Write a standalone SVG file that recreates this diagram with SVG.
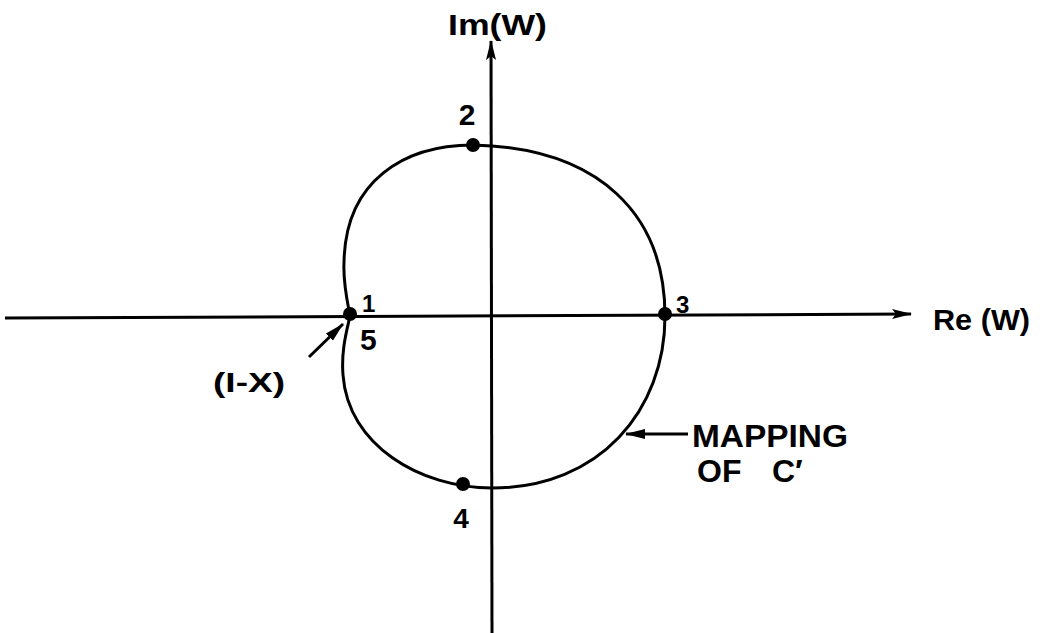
<svg xmlns="http://www.w3.org/2000/svg" width="1040" height="633" viewBox="0 0 1040 633">
<style>
.ax{stroke:#000;stroke-width:3;fill:none}
.cv{stroke:#000;stroke-width:3;fill:none}
.dot{fill:#000}
.lb{font-family:"Liberation Sans",Arial,sans-serif;font-weight:bold;fill:#000}
</style>
<defs>
<marker id="ah" viewBox="0 0 20 12" refX="19" refY="6" markerWidth="20" markerHeight="12" markerUnits="userSpaceOnUse" orient="auto">
<path d="M0,1 L20,6 L0,11 L4,6 Z" fill="#000"/>
</marker>
<marker id="ah2" viewBox="0 0 20 12" refX="19" refY="6" markerWidth="20" markerHeight="12" markerUnits="userSpaceOnUse" orient="auto">
<path d="M0,1 L20,6 L0,11 Z" fill="#000"/>
</marker>
</defs>
<rect width="1040" height="633" fill="#fff"/>
<g id="connectors">
<line class="ax" x1="5" y1="318" x2="911" y2="314" marker-end="url(#ah)"/>
<line class="ax" x1="492" y1="633" x2="491" y2="41" marker-end="url(#ah)"/>
<line class="ax" x1="309" y1="357" x2="343" y2="324" stroke-width="4" marker-end="url(#ah2)"/>
<line class="ax" x1="688" y1="434" x2="626" y2="434" marker-end="url(#ah2)"/>
</g>
<g id="curve">
<path class="cv" d="M350,316 C347,300 343,282 344,263 C345,180 405,145 473,145 C600,148 665,215 665,316 C665,410 600,488 492,488 C420,488 348,445 343,375 C341,350 347,330 350,316 Z"/>
</g>
<g id="p1"><circle class="dot" cx="350" cy="314" r="7"/><text class="lb" x="362" y="312" font-size="24">1</text><text class="lb" x="360" y="350" font-size="30">5</text></g>
<g id="p2"><circle class="dot" cx="473" cy="145" r="7"/><text class="lb" x="467" y="125" font-size="30" text-anchor="middle">2</text></g>
<g id="p3"><circle class="dot" cx="665" cy="314" r="7"/><text class="lb" x="676" y="313" font-size="24">3</text></g>
<g id="p4"><circle class="dot" cx="463" cy="484" r="7"/><text class="lb" x="461" y="528" font-size="28" text-anchor="middle">4</text></g>
<g id="im"><text class="lb" x="448" y="35" font-size="30" textLength="99" lengthAdjust="spacingAndGlyphs">Im(W)</text></g>
<g id="re"><text class="lb" x="933" y="330" font-size="30" textLength="97" lengthAdjust="spacingAndGlyphs">Re (W)</text></g>
<g id="ix"><text class="lb" x="213" y="392" font-size="27" textLength="72" lengthAdjust="spacingAndGlyphs">(I-X)</text></g>
<g id="mapping"><text class="lb" font-size="32"><tspan x="692" y="447" textLength="156" lengthAdjust="spacingAndGlyphs">MAPPING</tspan><tspan x="697" y="482">OF</tspan><tspan x="772" y="482">C′</tspan></text></g>
</svg>
